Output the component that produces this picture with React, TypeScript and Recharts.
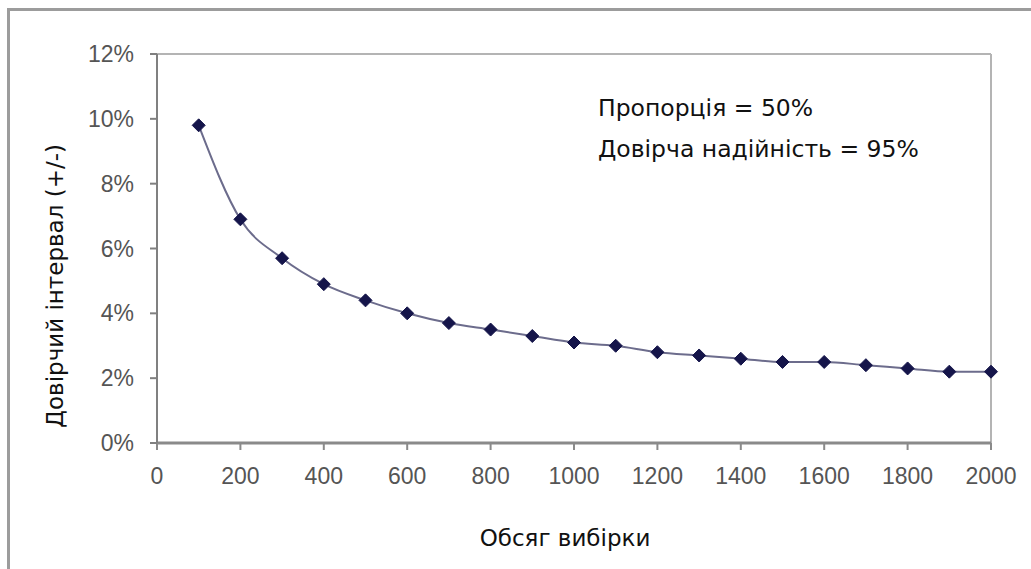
import { Line, LineChart, ReferenceLine, XAxis, YAxis } from "recharts";

// sample sizes and margin of error (percent)
const sampleSizes = [
  100, 200, 300, 400, 500, 600, 700, 800, 900, 1000, 1100, 1200, 1300, 1400,
  1500, 1600, 1700, 1800, 1900, 2000,
];
const marginOfError = [
  9.8, 6.9, 5.7, 4.9, 4.4, 4.0, 3.7, 3.5, 3.3, 3.1, 3.0, 2.8, 2.7, 2.6, 2.5,
  2.5, 2.4, 2.3, 2.2, 2.2,
];
const xTicks = [0, 200, 400, 600, 800, 1000, 1200, 1400, 1600, 1800, 2000];
const yTicks = [0, 2, 4, 6, 8, 10, 12];

const data = sampleSizes.map((n, i) => ({ n, moe: marginOfError[i] }));

const tickStyle = {
  fill: "#555",
  fontSize: 23,
  fontFamily: "'Liberation Sans', Arial, sans-serif",
};
const textFont = "'DejaVu Sans', Verdana, sans-serif";

function Diamond(props: { cx?: number; cy?: number }) {
  const { cx, cy } = props;
  if (cx == null || cy == null) return null;
  const r = 6.5;
  return (
    <polygon
      points={`${cx},${cy - r} ${cx + r},${cy} ${cx},${cy + r} ${cx - r},${cy}`}
      fill="#15154a"
      stroke="#15154a"
      strokeWidth={1}
    />
  );
}

export default function App() {
  return (
    <div
      style={{
        position: "absolute",
        left: 0,
        top: 0,
        width: 1031,
        height: 569,
        background: "#fff",
        overflow: "hidden",
      }}
    >
      <div
        style={{
          position: "absolute",
          left: 7,
          top: 8,
          right: -10,
          bottom: -10,
          borderTop: "3px solid #9c9c9c",
          borderLeft: "3px solid #9c9c9c",
        }}
      />
      <LineChart
        width={1031}
        height={569}
        data={data}
        margin={{ top: 54, right: 40, bottom: 66, left: 97 }}
        style={{ position: "absolute", left: 0, top: 0 }}
      >
        <XAxis
          dataKey="n"
          type="number"
          domain={[0, 2000]}
          ticks={xTicks}
          height={60}
          tick={tickStyle}
          tickSize={7}
          tickMargin={18}
          axisLine={{ stroke: "#8a8a8a", strokeWidth: 3 }}
          tickLine={{ stroke: "#8a8a8a", strokeWidth: 2 }}
        />
        <YAxis
          type="number"
          domain={[0, 12]}
          ticks={yTicks}
          width={60}
          tick={tickStyle}
          tickSize={7}
          tickMargin={16}
          tickFormatter={(v) => `${v}%`}
          axisLine={{ stroke: "#808080", strokeWidth: 2 }}
          tickLine={{ stroke: "#808080", strokeWidth: 2 }}
        />
        <ReferenceLine y={12} stroke="#b4b4b4" strokeWidth={2} />
        <ReferenceLine x={2000} stroke="#b4b4b4" strokeWidth={2} />
        <Line
          type="monotone"
          dataKey="moe"
          stroke="#6c6c8c"
          strokeWidth={2}
          dot={<Diamond />}
          activeDot={false}
          isAnimationActive={false}
        />
      </LineChart>
      <svg
        width={1031}
        height={569}
        style={{ position: "absolute", left: 0, top: 0, pointerEvents: "none" }}
      >
        <g fontFamily={textFont} fill="#111">
          <text x={598} y={116} fontSize={23.5}>
            Пропорція = 50%
          </text>
          <text x={598} y={157} fontSize={23.5}>
            Довірча надійність = 95%
          </text>
          <text x={565} y={546} fontSize={23} textAnchor="middle">
            Обсяг вибірки
          </text>
          <text
            x={63}
            y={286}
            fontSize={23}
            textAnchor="middle"
            transform="rotate(-90 63 286)"
          >
            Довірчий інтервал (+/-)
          </text>
        </g>
      </svg>
    </div>
  );
}
